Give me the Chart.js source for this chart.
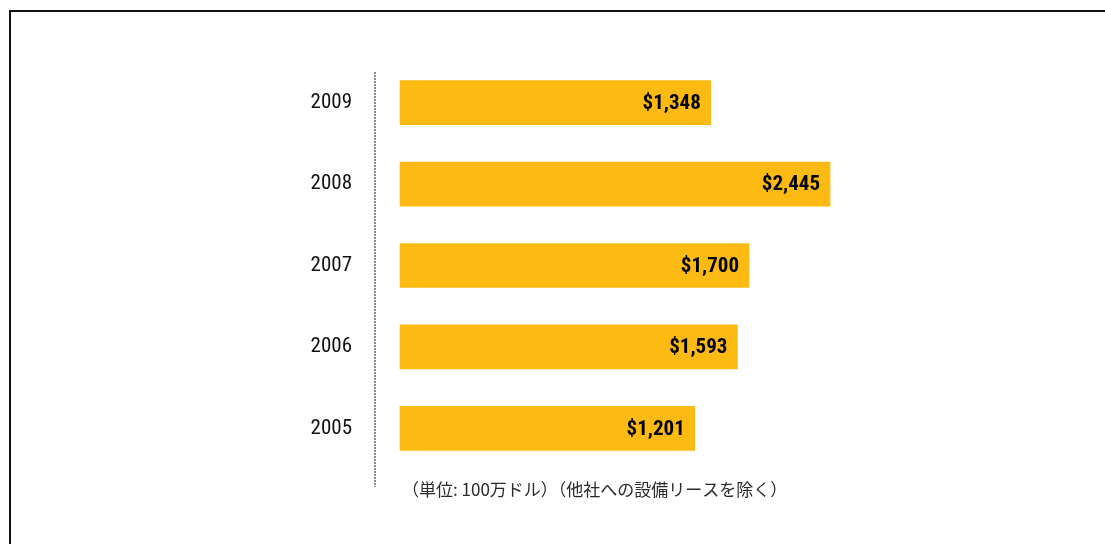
<!DOCTYPE html>
<html>
<head>
<meta charset="utf-8">
<script src="https://cdn.jsdelivr.net/npm/chart.js@4.4.1/dist/chart.umd.min.js"></script>
<style>
  html, body { margin: 0; padding: 0; background: #fff; }
  #wrap { position: relative; width: 1105px; height: 544px; overflow: hidden; }
  #frame {
    position: absolute; left: 9px; top: 10px; right: -4px; bottom: -4px;
    border-top: 2px solid #111; border-left: 2px solid #111;
  }
  #chart { position: absolute; left: 0; top: 0; }
</style>
</head>
<body>
<div id="wrap">
  <div id="frame"></div>
  <canvas id="chart" width="1105" height="544"></canvas>
</div>
<script>
// years, top to bottom
const years = ['2009', '2008', '2007', '2006', '2005'];
// lease volume, $ millions
const leaseValues = [1348, 2445, 1700, 1593, 1201];
const footnote = '（単位: 100万ドル）（他社への設備リースを除く）';

// value axis range and where the bars start
const axisMin = -1740;
const axisMax = 4560;
const barBase = -1510;

const barColor = '#FCBA12';
const narrowFont = "'Liberation Sans Narrow', 'Roboto Condensed', 'DejaVu Sans Condensed', Arial, sans-serif";

// dotted axis line + unit note under the bars
const axisNote = {
    id: 'axisNote',
    afterDraw(chart) {
        const ctx = chart.ctx;
        const area = chart.chartArea;
        ctx.save();
        ctx.strokeStyle = '#8c8c8c';
        ctx.lineWidth = 2;
        ctx.setLineDash([2, 1]);
        ctx.beginPath();
        ctx.moveTo(area.left, area.top + 10);
        ctx.lineTo(area.left, area.bottom + 18);
        ctx.stroke();
        ctx.setLineDash([]);

        ctx.fillStyle = '#2b2b2b';
        ctx.font = "17px 'Noto Sans CJK JP', 'Noto Sans', sans-serif";
        ctx.textAlign = 'left';
        ctx.textBaseline = 'middle';
        ctx.fillText(footnote, area.left + 27, area.bottom + 21);
        ctx.restore();
    }
};

// "$1,348" style labels inside the bar ends
const barLabels = {
    id: 'barLabels',
    afterDatasetsDraw(chart) {
        const ctx = chart.ctx;
        const meta = chart.getDatasetMeta(0);
        ctx.save();
        ctx.fillStyle = '#000';
        ctx.font = 'bold 21px ' + narrowFont;
        ctx.textAlign = 'right';
        ctx.textBaseline = 'middle';
        meta.data.forEach((bar, i) => {
            let txt = '$' + leaseValues[i].toLocaleString('en-US');
            ctx.fillText(txt, bar.x - 10, bar.y + 1);
        });
        ctx.restore();
    }
};

let ctx = document.getElementById('chart').getContext('2d');
new Chart(ctx, {
    type: 'bar',
    data: {
        labels: years,
        datasets: [{
            data: leaseValues,
            base: barBase,
            backgroundColor: barColor,
            borderWidth: 0,
            barThickness: 44
        }]
    },
    options: {
        indexAxis: 'y',
        responsive: false,
        devicePixelRatio: 1,
        animation: false,
        layout: {
            padding: { left: 0, top: 62, right: 45, bottom: 75 }
        },
        plugins: {
            legend: { display: false },
            tooltip: { enabled: false }
        },
        scales: {
            x: {
                display: false,
                min: axisMin,
                max: axisMax
            },
            y: {
                grid: { display: false },
                border: { display: false },
                ticks: {
                    color: '#111',
                    padding: 15,
                    font: { family: narrowFont, size: 21 }
                },
                afterFit(scale) {
                    scale.width = 375;
                }
            }
        }
    },
    plugins: [axisNote, barLabels]
});
</script>
</body>
</html>
